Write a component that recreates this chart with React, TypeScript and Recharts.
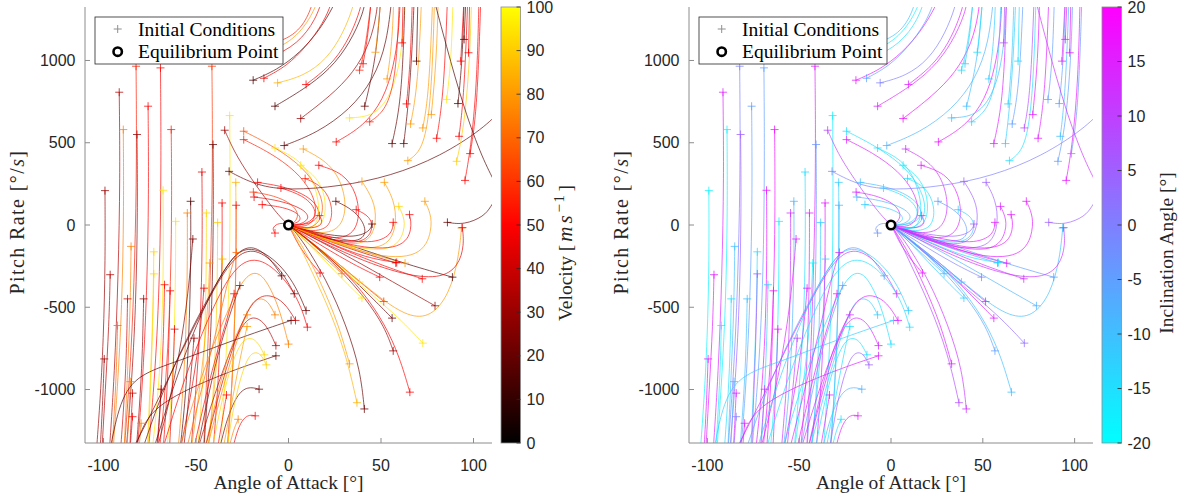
import React from 'react';
import { ComposedChart, Line, Scatter, XAxis, YAxis } from 'recharts';

type Pt = [number, number];

const alphaTicks = [-100, -50, 0, 50, 100];
const rateTicks = [-1000, -500, 0, 500, 1000];
const velocityTicks = [0, 10, 20, 30, 40, 50, 60, 70, 80, 90, 100];
const inclinationTicks = [-20, -15, -10, -5, 0, 5, 10, 15, 20];

// trajectories that drop straight down on the left
const descenders: Pt[][] = [
  [[-82.4, 965], [-82, 400], [-83, -200], [-85, -800], [-89, -1400]],
  [[-69.2, 955], [-68.8, 400], [-69.5, -300], [-72, -900], [-76, -1400]],
  [[-41.4, 965], [-41, 500], [-41.5, 0], [-43, -600], [-46, -1400]],
  [[-91.5, 807], [-91, 300], [-92, -300], [-94, -900], [-97, -1400]],
  [[-75.9, 722], [-75.5, 200], [-76.5, -400], [-79, -1000], [-82, -1400]],
  [[-89.3, 580], [-89, 100], [-90, -500], [-92.5, -1000], [-95, -1400]],
  [[-81.9, 550], [-81.5, 100], [-82.5, -500], [-85, -1000], [-88, -1400]],
  [[-63.4, 580], [-63, 100], [-64, -500], [-66.5, -1000], [-70, -1400]],
  [[-99.2, 209], [-99, -200], [-100, -700], [-102, -1100], [-104, -1400]],
  [[-67.8, 211], [-67.5, -200], [-68.5, -700], [-71, -1100], [-74, -1400]],
  [[-46.8, 322], [-46.5, -100], [-47.5, -600], [-50, -1000], [-53, -1400]],
  [[-52.9, 144], [-52.7, -200], [-53.8, -700], [-56, -1100], [-59, -1400]],
  [[-54.7, 73], [-54.6, -300], [-55.8, -800], [-58, -1150], [-60, -1400]],
  [[-61, 22], [-61, -300], [-62, -800], [-64, -1150], [-66, -1400]],
  [[-44.4, 73], [-44.4, -300], [-45.5, -800], [-47.5, -1150], [-49.5, -1400]],
  [[-38.3, 15], [-38.4, -300], [-39.5, -800], [-41.5, -1150], [-43.5, -1400]],
  [[-51.7, -85], [-54, -400], [-59, -800], [-66, -1150], [-72, -1400]],
  [[-85.1, -130], [-85.5, -500], [-87, -900], [-89, -1400]],
  [[-72.8, -163], [-73.2, -500], [-74.5, -900], [-76.5, -1400]],
  [[-72.8, -297], [-73.3, -600], [-74.6, -1000], [-76, -1400]],
  [[-96.4, -302], [-97, -600], [-99, -1000], [-101, -1400]],
  [[-87, -449], [-87.6, -800], [-89, -1100], [-91, -1400]],
  [[-78.3, -449], [-79, -800], [-80.5, -1100], [-82.5, -1400]],
  [[-92.4, -611], [-93, -900], [-94.5, -1200], [-95.5, -1400]],
  [[-99.6, -814], [-100.5, -1100], [-102, -1400]],
  [[-67, -363], [-67.6, -700], [-69, -1050], [-71, -1400]],
  [[-64, -400], [-64.7, -750], [-66, -1100], [-68, -1400]],
  [[-61.6, -633], [-62.5, -950], [-64.5, -1400]],
  [[-45.7, -384], [-48, -700], [-53, -1050], [-59, -1400]],
  [[-42.6, -231], [-44, -600], [-48, -1000], [-53, -1400]],
  [[-35.7, -207], [-37, -600], [-40, -1000], [-44, -1400]],
  [[-51.1, -688], [-53, -950], [-57, -1400]],
  [[-68.8, -998], [-70, -1200], [-71.5, -1400]],
  [[-84.3, -1165], [-85.2, -1300], [-86, -1400]],
  [[-79.7, -1205], [-80.5, -1320], [-81.2, -1400]],
  [[-85.5, -952], [-86.5, -1200], [-87.5, -1400]],
  [[-84.3, -1022], [-85.3, -1250], [-86, -1400]],
  [[-31.8, 665], [-31.5, 250], [-31.8, -300], [-34, -900], [-37, -1400]],
  [[-40.8, 489], [-40.5, 100], [-41.3, -500], [-43.5, -1000], [-46, -1400]],
  [[-35.9, 134], [-35.8, -200], [-36.8, -700], [-38.8, -1100], [-41, -1400]],
  [[-28.3, 120], [-28.3, -200], [-29.3, -700], [-31.2, -1100], [-33.5, -1400]],
  [[-28.5, 259], [-28.3, -100], [-29, -600], [-31, -1050], [-33, -1400]],
];
const descenderVelocity = [55, 50, 60, 35, 50, 75, 30, 55, 30, 95, 45, 15, 75, 95, 92, 90, 25, 75, 92, 92, 35, 40, 30, 70, 30, 50, 50, 45, 45, 80, 85, 30, 30, 50, 75, 75, 40, 95, 20, 50, 50, 85];
const descenderInclination = [0, -5, 15, 15, -5, -18, 5, 18, -18, 17, -15, -8, 12, -18, 14, -12, 15, -10, -15, 8, 16, -15, -10, -18, 16, -12, 18, 16, 15, -18, -12, 10, 12, 0, 16, -10, 15, -18, -3, 16, -8, -12];

// arcs below the equilibrium that swing left and fall away
const arcs: Pt[][] = [
  [[-3.7, -309], [-10, -200], [-19, -120], [-28, -160], [-38, -330], [-52, -620], [-68, -1000], [-80, -1400]],
  [[3.1, -418], [-5, -250], [-18, -135], [-29, -185], [-40, -380], [-55, -700], [-72, -1100], [-86, -1400]],
  [[9.5, -520], [2, -320], [-12, -160], [-25, -130], [-34, -250], [-46, -500], [-60, -900], [-74, -1400]],
  [[10.2, -621], [5, -430], [-8, -250], [-20, -190], [-31, -280], [-43, -550], [-57, -950], [-69, -1400]],
  [[0, -724], [-5, -500], [-12, -330], [-18, -276], [-25, -330], [-34, -550], [-47, -900], [-60, -1400]],
  [[-6.8, -733], [-12, -600], [-19, -548], [-25, -600], [-33, -800], [-42, -1100], [-50, -1400]],
  [[-22.4, -546], [-28, -650], [-36, -900], [-46, -1400]],
  [[-6.8, -795], [-35, -900], [-71.6, -1083], [-80, -1250], [-84, -1400]],
  [[1.4, -580], [-30, -700], [-60, -830], [-83.3, -915], [-92, -1100], [-97, -1400]],
  [[-13.1, -789], [-17, -700], [-22, -680], [-27, -730], [-34, -950], [-42, -1400]],
  [[-15.9, -998], [-22, -980], [-28, -1030], [-34, -1200], [-38, -1400]],
  [[-18, -1160], [-22, -1150], [-27, -1210], [-31, -1400]],
  [[-27.2, -1181], [-30, -1250], [-33, -1400]],
  [[-33.5, -1033], [-36, -1200], [-39, -1400]],
  [[-29.4, -418], [-34, -600], [-42, -900], [-52, -1400]],
  [[-26.3, -368], [-32, -550], [-40, -850], [-50, -1400]],
  [[-22.4, -617], [-26, -800], [-31, -1100], [-36, -1400]],
  [[-7.3, -546], [-11, -460], [-16, -440], [-21, -480], [-28, -700], [-37, -1050], [-45, -1400]],
  [[-28.1, -167], [-32, -300], [-38, -600], [-47, -1000], [-56, -1400]],
  [[-12, -850], [-15, -780], [-19, -770], [-23, -820], [-29, -1050], [-34, -1400]],
  [[3.8, -580], [-2, -470], [-10, -420], [-18, -440], [-26, -600], [-36, -950], [-46, -1400]],
];
const arcVelocity = [20, 25, 20, 50, 75, 35, 75, 20, 15, 92, 20, 50, 75, 50, 50, 25, 80, 75, 70, 90, 40];
const arcInclination = [-5, 12, -12, -15, -15, 14, 12, 15, -12, -15, -8, 16, -15, 15, 16, -5, -15, -12, 14, 5, 16];

// lower right starts that fan into the equilibrium
const fan: Pt[][] = [
  [[17.1, -292], [12, -225], [6, -135], [2, -45], [0, 0]],
  [[28.9, -296], [20, -205], [10, -105], [3, -30], [0, 0]],
  [[38.4, -347], [28, -255], [15, -140], [5, -45], [0, 0]],
  [[39.7, -444], [30, -340], [17, -185], [6, -60], [0, 0]],
  [[49.3, -317], [35, -240], [20, -140], [7, -50], [0, 0]],
  [[51.5, -465], [40, -360], [24, -205], [8, -70], [0, 0]],
  [[56, -566], [45, -440], [28, -255], [10, -85], [0, 0]],
  [[58, -230], [40, -170], [20, -92], [6, -27], [0, 0]],
  [[63, -232], [45, -180], [25, -102], [8, -32], [0, 0]],
  [[72.3, -327], [52, -252], [30, -152], [10, -52], [0, 0]],
  [[79.2, -491], [62, -382], [40, -240], [16, -92], [0, 0]],
  [[88.6, -317], [65, -242], [38, -142], [12, -42], [0, 0]],
  [[72.6, -718], [62, -590], [50, -470], [35, -330], [18, -165], [6, -52], [0, 0]],
  [[93.5, -18], [92, -200], [87, -420], [77, -560], [65, -560], [50, -450], [30, -262], [10, -82], [0, 0]],
  [[37, -1080], [31, -780], [21, -480], [10, -222], [3, -52], [0, 0]],
  [[41, -1118], [38.8, -881], [31.5, -617], [20.7, -333], [6.2, -69], [0, 0]],
  [[33, -844], [27, -602], [18, -362], [8, -132], [0, 0]],
  [[65.6, -1016], [60, -800], [52, -600], [40, -400], [25, -222], [8, -62], [0, 0]],
  [[56.6, -765], [52, -620], [42, -450], [28, -272], [12, -102], [0, 0]],
  [[94, -16], [95, -120], [92, -250], [82, -330], [60, -300], [30, -172], [0, 0]],
  [[58.5, -228], [42, -200], [22, -110], [7, -32], [0, 0]],
];
const fanVelocity = [50, 75, 95, 95, 50, 60, 20, 35, 80, 50, 30, 15, 95, 80, 85, 20, 80, 50, 30, 45, 50];
const fanInclination = [16, -10, -15, -12, 0, 15, 15, -5, 16, 12, -8, -5, 3, -10, 8, 12, 15, -10, -5, 12, -15];

// upper starts that loop over and settle at the equilibrium
const returns: Pt[][] = [
  [[-4.1, 225], [8, 180], [15, 100], [14, 30], [6, -5], [0, 0]],
  [[-16.7, 259], [0, 230], [13, 160], [18, 70], [12, 0], [0, 0]],
  [[-18.6, 170], [-5, 150], [8, 100], [12, 40], [6, 0], [0, 0]],
  [[-14.2, 124], [-3, 110], [6, 70], [7, 20], [0, 0]],
  [[-7.3, -49], [-9, -20], [-6, 10], [-2, 10], [0, 0]],
  [[-7.3, 468], [6.2, 397], [13.4, 275], [17.1, 113], [15.3, -9], [8, -29], [0, 0]],
  [[8, 462], [22.5, 377], [29.7, 235], [31.5, 72], [26, -49], [11.6, -49], [0, 0]],
  [[6.6, 363], [17, 275], [20.7, 133], [18.9, -9], [8, -29], [0, 0]],
  [[16.4, 363], [29.7, 316], [37, 194], [38.8, 32], [33, -90], [15, -70], [0, 0]],
  [[9, 282], [18.9, 235], [24.3, 113], [22.5, -29], [10, -40], [0, 0]],
  [[25.6, 144], [35.2, 93], [42.4, -9], [40.6, -110], [20, -90], [0, 0]],
  [[36.6, 93], [44.2, 53], [46, -29], [40, -120], [20, -90], [0, 0]],
  [[16.7, 57], [18.9, 12], [15, -20], [6, -15], [0, 0]],
  [[39.7, 265], [46, 154], [47.8, 32], [44, -120], [25, -120], [0, 0]],
  [[51.8, 259], [57, 154], [58.7, 12], [54, -150], [30, -140], [0, 0]],
  [[73.7, 144], [76.8, 73], [77.7, -29], [72, -200], [45, -200], [0, 0]],
  [[59.6, 113], [62.3, 53], [63.2, -29], [57, -170], [30, -130], [0, 0]],
  [[65.4, 63], [67, -20], [62, -150], [35, -140], [0, 0]],
  [[45.2, 6], [44, -40], [35, -80], [15, -50], [0, 0]],
  [[56.6, 16], [56, -60], [45, -120], [20, -70], [0, 0]],
  [[85.9, 16], [94.9, 1], [105.7, 52], [109.4, 113], [112, 160]],
  [[-24.2, 570], [-10, 490], [5, 380], [15, 250], [20, 100], [15, -20], [5, -20], [0, 0]],
  [[-24.2, 519], [-10, 440], [4, 330], [13, 200], [16, 60], [10, -20], [0, 0]],
  [[-34.5, 576], [-28.2, 417], [-17.3, 235], [-6.5, 72], [-1, 10], [0, 0]],
  [[-32.1, 326], [-17.3, 239], [0.8, 210], [27.9, 235], [55, 296], [82.2, 417], [105.7, 590], [115, 700]],
  [[-19, 200], [-8, 180], [2, 130], [6, 60], [3, 10], [0, 0]],
];
const returnVelocity = [50, 50, 45, 50, 50, 95, 80, 95, 50, 55, 20, 50, 50, 80, 80, 80, 92, 50, 20, 50, 20, 65, 55, 30, 20, 60];
const returnInclination = [-15, -10, -8, -12, -3, -15, 12, -18, 15, -15, -5, -12, 14, 5, 5, 16, 14, 16, 5, 16, 5, -15, 15, 10, 0, 14];

// upper starts that climb out of the top edge
const climbers: Pt[][] = [
  [[-19.1, 880], [-6.5, 941], [6.2, 1046], [17.1, 1188], [24.3, 1330], [27, 1400]],
  [[-13.3, 892], [-1, 965], [9.8, 1087], [18.9, 1229], [23.4, 1351], [24, 1400]],
  [[-5.9, 864], [8, 904], [20.7, 1006], [29.7, 1168], [35.2, 1330], [36, 1400]],
  [[9.5, 854], [22.5, 965], [31.5, 1107], [37, 1249], [39.7, 1351], [40, 1400]],
  [[-7.3, 722], [8, 823], [22.5, 945], [33.3, 1107], [40.6, 1290], [42, 1400]],
  [[6.6, 647], [22.5, 783], [35.2, 925], [44.2, 1107], [47.8, 1290], [48.5, 1400]],
  [[25.8, 505], [40.6, 600], [51.4, 762], [56.9, 965], [59.6, 1168], [60.5, 1400]],
  [[-2.3, 483], [15.3, 559], [33.3, 701], [46, 884], [53.3, 1107], [56, 1400]],
  [[33, 651], [46, 660], [55, 780], [60, 965], [62, 1168], [63, 1400]],
  [[43.9, 627], [52, 690], [57, 850], [59, 1100], [60, 1400]],
  [[41.2, 722], [45, 900], [48, 1100], [50, 1400]],
  [[38.4, 941], [42, 1100], [45, 1400]],
  [[40.3, 980], [43, 1150], [45, 1400]],
  [[47, 1050], [49, 1250], [50, 1400]],
  [[53.3, 888], [56, 1100], [57, 1400]],
  [[56, 495], [60, 700], [62, 1000], [63, 1400]],
  [[62.3, 495], [65, 750], [67, 1100], [68, 1400]],
  [[61.4, 1107], [62, 1400]],
  [[69.2, 996], [70, 1400]],
  [[63.8, 736], [66, 1000], [67, 1400]],
  [[66, 614], [70, 850], [72, 1400]],
  [[64.5, 391], [72, 450], [76, 650], [78, 1000], [79, 1400]],
  [[72.6, 590], [76, 800], [78, 1400]],
  [[77.2, 671], [80, 1000], [81, 1400]],
  [[80.1, 527], [84, 800], [86, 1400]],
  [[85.5, 763], [88, 1000], [89, 1400]],
  [[91.6, 738], [94, 1000], [95, 1400]],
  [[92.2, 539], [95, 800], [97, 1400]],
  [[90.9, 387], [95, 600], [98, 1000], [99, 1400]],
  [[95.4, 271], [99, 500], [102, 900], [103, 1400]],
  [[98.2, 434], [102, 700], [104, 1400]],
  [[93.1, 996], [95, 1400]],
  [[97.3, 1047], [98, 1400]],
  [[94.9, 1128], [96, 1400]],
  [[-45, 1010], [-30, 985], [-10, 1010], [5, 1100], [15, 1250], [19, 1400]],
  [[-35, 1050], [-20, 1030], [0, 1090], [12, 1250], [17, 1400]],
  [[-25, 1100], [-10, 1090], [5, 1160], [12, 1300], [14, 1400]],
  [[78, 1400], [85, 1100], [95, 700], [105, 400], [112, 250]],
];
const climberVelocity = [15, 45, 85, 50, 15, 30, 50, 20, 95, 55, 20, 55, 50, 80, 80, 20, 20, 50, 15, 50, 80, 80, 80, 80, 50, 95, 15, 50, 90, 50, 50, 50, 50, 15, 45, 80, 55, 15];
const climberInclination = [16, -5, 0, 15, 14, 18, 17, -8, -10, -12, -10, -15, -12, -15, -12, 15, -12, 8, -15, -12, -5, -15, 8, 16, 15, -5, -5, -10, -5, 16, -3, 14, 16, 15, -15, -18, -10, 12];

const groups = [
  { paths: descenders, velocity: descenderVelocity, inclination: descenderInclination },
  { paths: arcs, velocity: arcVelocity, inclination: arcInclination },
  { paths: fan, velocity: fanVelocity, inclination: fanInclination },
  { paths: returns, velocity: returnVelocity, inclination: returnInclination },
  { paths: climbers, velocity: climberVelocity, inclination: climberInclination },
];

type Traj = { points: { x: number; y: number }[]; v: number; inc: number };

const trajectories: Traj[] = groups.flatMap((g) =>
  g.paths.map((p, i) => ({
    points: p.map(([x, y]) => ({ x, y })),
    v: g.velocity[i],
    inc: g.inclination[i],
  }))
);

const X_DOMAIN: [number, number] = [-110, 110];
const Y_DOMAIN: [number, number] = [-1325, 1325];

function velocityColour(v: number) {
  const t = Math.max(0, Math.min(100, v));
  if (t <= 50) return `rgb(${Math.round((t / 50) * 255)},0,0)`;
  return `rgb(255,${Math.round(((t - 50) / 50) * 255)},0)`;
}

function inclinationColour(a: number) {
  const t = (Math.max(-20, Math.min(20, a)) + 20) / 40;
  return `rgb(${Math.round(t * 255)},${Math.round((1 - t) * 255)},255)`;
}

const Plus = (props: any) => {
  const { cx, cy, payload } = props;
  return (
    <path
      d={`M${cx - 4},${cy}h8M${cx},${cy - 4}v8`}
      stroke={payload.c}
      strokeWidth={1}
      strokeOpacity={0.75}
    />
  );
};

const Ring = (props: any) => (
  <circle cx={props.cx} cy={props.cy} r={4.2} fill="#fff" stroke="#000" strokeWidth={2.6} />
);

const tickFont = { fill: '#262626', fontSize: 16, fontFamily: 'Liberation Sans, Arial, sans-serif' };
const serif = 'Liberation Serif, Times New Roman, serif';

type PanelProps = {
  left: number;
  width: number;
  axisWidth: number;
  rightMargin: number;
  colour: (t: Traj) => string;
  gradient: { offset: string; color: string }[];
  barTicks: number[];
  barRange: [number, number];
  barLabel: React.ReactNode;
  gid: string;
};

function Panel(p: PanelProps) {
  const plotLeft = p.axisWidth;
  const plotRight = p.width - p.rightMargin;
  const plotTop = 7;
  const plotBottom = 443;
  const barX = plotRight + 9;
  const barW = 19.5;
  const markers = trajectories
    .filter((t) => {
      const s = t.points[0];
      return s.x >= X_DOMAIN[0] && s.x <= X_DOMAIN[1] && s.y >= Y_DOMAIN[0] && s.y <= Y_DOMAIN[1];
    })
    .map((t) => ({ x: t.points[0].x, y: t.points[0].y, c: p.colour(t) }));
  const frac = (v: number) => (v - p.barRange[0]) / (p.barRange[1] - p.barRange[0]);
  return (
    <div style={{ position: 'absolute', left: p.left, top: 0, width: p.width, height: 499 }}>
      <ComposedChart width={p.width} height={499} margin={{ top: plotTop, right: p.rightMargin, bottom: 0, left: 0 }}>
        <XAxis
          xAxisId="b"
          type="number"
          dataKey="x"
          domain={X_DOMAIN}
          ticks={alphaTicks}
          allowDataOverflow
          height={56}
          tickSize={-5}
          tickMargin={21.5}
          stroke="#8c8c8c"
          tick={tickFont}
        />
        <XAxis
          xAxisId="t"
          orientation="top"
          type="number"
          dataKey="x"
          domain={X_DOMAIN}
          ticks={alphaTicks}
          allowDataOverflow
          height={0}
          tickSize={-5}
          tick={false}
          stroke="#8c8c8c"
        />
        <YAxis
          yAxisId="l"
          type="number"
          dataKey="y"
          domain={Y_DOMAIN}
          ticks={rateTicks}
          allowDataOverflow
          width={p.axisWidth}
          tickSize={-5}
          tickMargin={14.5}
          stroke="#8c8c8c"
          tick={tickFont}
        />
        <YAxis
          yAxisId="r"
          orientation="right"
          type="number"
          dataKey="y"
          domain={Y_DOMAIN}
          ticks={rateTicks}
          allowDataOverflow
          width={0}
          tickSize={-5}
          tick={false}
          stroke="#8c8c8c"
        />
        {trajectories.map((t, i) => (
          <Line
            key={i}
            xAxisId="b"
            yAxisId="l"
            data={t.points}
            dataKey="y"
            type="basis"
            stroke={p.colour(t)}
            strokeWidth={0.85}
            strokeOpacity={0.8}
            dot={false}
            activeDot={false}
            legendType="none"
            isAnimationActive={false}
          />
        ))}
        <Scatter xAxisId="b" yAxisId="l" data={markers} dataKey="y" shape={Plus} isAnimationActive={false} />
        <Scatter xAxisId="b" yAxisId="l" data={[{ x: 0, y: 0 }]} dataKey="y" shape={Ring} isAnimationActive={false} />
      </ComposedChart>
      <svg
        width={p.width}
        height={499}
        style={{ position: 'absolute', left: 0, top: 0, pointerEvents: 'none' }}
      >
        <defs>
          <linearGradient id={p.gid} x1="0" y1="0" x2="0" y2="1">
            {p.gradient.map((s) => (
              <stop key={s.offset} offset={s.offset} stopColor={s.color} />
            ))}
          </linearGradient>
        </defs>
        {/* legend */}
        <g transform={`translate(${plotLeft + 10},17)`}>
          <rect x={0} y={0} width={188} height={47} fill="#fff" stroke="#262626" strokeWidth={0.8} />
          <path d="M18.7,12h8M22.7,8v8" stroke="#8f8f8f" strokeWidth={1} />
          <circle cx={22.7} cy={34.7} r={4.2} fill="#fff" stroke="#000" strokeWidth={2.6} />
          <text x={43} y={18.5} fontFamily={serif} fontSize={19.5} fill="#000">
            Initial Conditions
          </text>
          <text x={43} y={41.2} fontFamily={serif} fontSize={19.5} fill="#000">
            Equilibrium Point
          </text>
        </g>
        {/* axis titles */}
        <text
          x={(plotLeft + plotRight) / 2}
          y={489}
          textAnchor="middle"
          fontFamily={serif}
          fontSize={19.5}
          fill="#262626"
        >
          Angle of Attack [°]
        </text>
        <text
          transform={`translate(${plotLeft - 61},222) rotate(-90)`}
          textAnchor="middle"
          fontFamily={serif}
          fontSize={20}
          letterSpacing={1.4}
          fill="#262626"
        >
          Pitch Rate [°/<tspan fontStyle="italic">s</tspan>]
        </text>
        {/* colour bar */}
        <rect x={barX} y={plotTop} width={barW} height={plotBottom - plotTop} fill={`url(#${p.gid})`} stroke="#8c8c8c" strokeWidth={0.8} />
        {p.barTicks.map((v) => {
          const y = plotBottom - frac(v) * (plotBottom - plotTop);
          return (
            <g key={v}>
              <line x1={barX + barW - 4} x2={barX + barW} y1={y} y2={y} stroke="#262626" strokeWidth={0.8} />
              <text x={barX + barW + 6} y={y} dominantBaseline="central" {...tickFont}>
                {v}
              </text>
            </g>
          );
        })}
        <text
          transform={`translate(${barX + 70.5},253) rotate(-90)`}
          textAnchor="middle"
          fontFamily={serif}
          fontSize={19.5}
          fill="#262626"
        >
          {p.barLabel}
        </text>
      </svg>
    </div>
  );
}

export default function App() {
  return (
    <div style={{ position: 'absolute', left: 0, top: 0, width: 1178, height: 499, background: '#fff' }}>
      <Panel
        left={0}
        width={600}
        axisWidth={85}
        rightMargin={108}
        colour={(t) => velocityColour(t.v)}
        gradient={[
          { offset: '0', color: '#ffff00' },
          { offset: '0.5', color: '#ff0000' },
          { offset: '1', color: '#000000' },
        ]}
        barTicks={velocityTicks}
        barRange={[0, 100]}
        barLabel={
          <>
            Velocity{'  '}
            <tspan letterSpacing={3}>[</tspan>
            <tspan fontStyle="italic" fontSize={21} letterSpacing={3}>ms</tspan>
            <tspan dy={-8} fontSize={15} letterSpacing={1.5}>−1</tspan>
            <tspan dy={8} dx={2}>]</tspan>
          </>
        }
        gid="velGrad"
      />
      <Panel
        left={600}
        width={578}
        axisWidth={89}
        rightMargin={85}
        colour={(t) => inclinationColour(t.inc)}
        gradient={[
          { offset: '0', color: '#ff00ff' },
          { offset: '1', color: '#00ffff' },
        ]}
        barTicks={inclinationTicks}
        barRange={[-20, 20]}
        barLabel={<>Inclination Angle [°]</>}
        gid="incGrad"
      />
    </div>
  );
}
